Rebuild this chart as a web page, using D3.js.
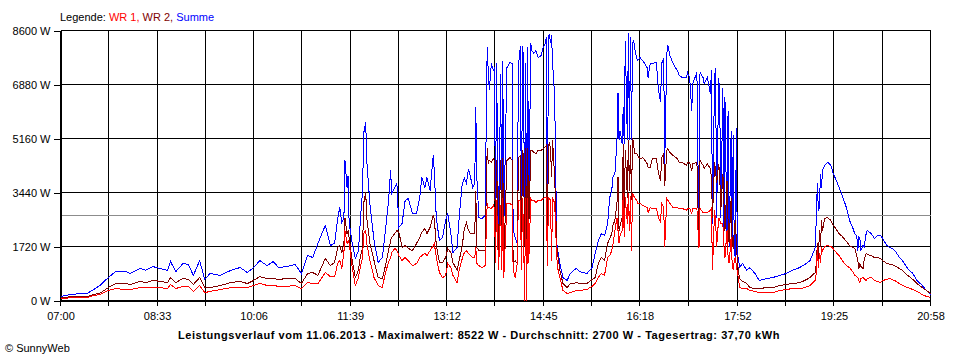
<!DOCTYPE html>
<html><head><meta charset="utf-8">
<script src="https://cdn.jsdelivr.net/npm/d3@7"></script>
<style>
body{margin:0;background:#fff;}
svg{display:block;font-family:"Liberation Sans",Arial,sans-serif;font-size:11px;}
</style></head><body>
<svg id="chart" width="960" height="360"></svg>
<script>
// minutes since 07:00
const minutes = [0,5,10,19,26,32,38,46,53,63,
67,77,82,89,96,103,106,111,118,123,
128,134,139,144,154,164,173,180,186,192,
199,205,210,218,226,232,238,243,248,255,
260,264,267,269,271,273,274,276,277,278,
281,284,287,289,291,292,294,295,298,302,
306,310,313,316,318,319,322,324,326,329,
332,335,339,343,346,348,351,353,356,359,
360,362,365,368,371,373,376,378,382,384,
387,389,391,393,395,397,399,400,401,403,
406,409,411,412,413,415,417,418,419,420,
422,424,425,426,427,430,433,435,436,438,
440,441,443,444,445,446,447,448,449,450,
451,453,454,456,458,460,463,465,467,468,
469,470,471,472,473,474,476,478,479,481,
484,488,491,494,497,500,507,512,515,518,
521,524,527,529,531,532,534,536,537,538,
539,541,542,543,544,546,547,548,549,550,
551,552,553,555,556,558,561,565,566,568,
570,574,576,578,579,581,582,584,585,587,
590,594,596,599,603,604,606,608,609,613,
615,616,619,620,623,626,627,628,630,631,
632,634,635,636,638,639,640,642,643,644,
646,647,648,649,650,651,652,653,654,657,
661,664,669,673,680,686,693,699,705,712,
717,722,724,727,728,729,730,731,732,733,
734,736,738,739,742,744,748,750,753,757,
760,763,765,767,768,769,770,771,773,774,
776,777,781,784,787,790,792,796,799,801,
805,808,811,816,821,825,830,834,838];

const summe = [130,160,190,220,230,350,480,730,920,920,
860,1020,960,1080,1020,960,1240,920,1180,1150,
800,1270,670,860,800,960,1050,890,1050,1270,
1110,1240,1050,1080,1150,860,1430,1370,1820,2390,
1750,1820,2610,2960,2480,2640,4460,3600,3980,2480,
1820,1340,1590,2640,3500,5320,5670,4460,3090,1910,
1210,1370,2230,3190,4140,3410,3600,3730,2330,2450,
3190,3250,2770,2770,3280,3920,3600,3920,3500,4620,
4140,2610,1910,2010,2550,2770,2130,1530,1690,2640,
3730,3890,3730,4200,3920,3600,3730,6150,3920,2640,
2610,2710,8060,7330,6690,7550,7330,7390,2640,7550,
2010,7230,2010,7640,2330,7420,7580,7550,2230,2010,
1820,7420,8120,2230,8120,7740,1910,7550,1820,8060,
2640,8190,7960,7870,7960,7740,7800,8060,8190,8380,
2230,8380,8500,8190,8440,7550,6470,1820,1590,1180,
730,640,860,960,1020,920,860,1050,1500,1910,
2130,2070,2450,3280,3500,3920,4040,5100,6620,5100,
5410,5000,6150,5000,8280,5100,8520,5100,8380,5100,
8190,8280,8060,7710,7640,7740,7640,7420,7100,7550,
7550,7580,6690,6310,7550,7710,4360,7870,8120,7800,
7550,7330,7170,7100,7100,7260,7100,6050,6910,7260,
1750,7260,7100,6910,7100,6590,7330,2450,7100,7420,
2640,7100,6470,2640,6780,2230,6470,1820,6050,1690,
5410,2010,5260,1590,1370,5510,1270,1370,1050,1180,
960,1050,860,640,700,730,800,860,960,1050,
1150,1270,1430,1690,2640,3730,2870,2960,4040,3600,
4140,4300,4360,4400,4300,4080,3760,3600,3340,2960,
2550,2330,2130,2070,1590,2010,1970,1590,1750,1690,
2130,2230,2130,1970,2070,2070,1970,1750,1690,1660,
1530,1370,1270,1020,860,640,480,320,190];

const wr2 = [100,100,130,130,130,190,230,410,540,540,
510,610,570,640,610,570,730,570,700,670,
510,730,410,410,480,570,610,540,640,760,
700,700,670,700,700,540,860,890,800,1340,
1110,1210,1690,1750,1530,1820,2640,2130,2230,2010,
1270,730,960,1430,1690,3090,3440,2640,1820,1270,
730,700,1110,1590,1910,2010,2130,2230,2170,1690,
1750,1660,1590,1820,2010,2170,2290,2130,2330,2710,
2610,1750,1210,1210,1370,1660,1530,1210,960,1270,
1750,2290,2480,2230,2130,2130,2130,3500,1690,1590,
1590,1590,4870,4360,4460,4400,4520,4460,2010,4460,
1590,4460,1370,4550,1180,4460,4550,4460,1180,1270,
1180,4550,4620,1590,4780,4620,1750,4870,1820,4870,
2230,4780,4780,4710,4680,4780,4780,4840,4900,4940,
1910,4940,5000,4840,3920,5100,3920,1750,1430,960,
540,410,540,540,570,540,540,670,730,1180,
1370,1270,1820,1970,2130,2390,2550,3090,3920,2230,
2390,2640,5000,2450,4780,3280,5100,3500,4940,3190,
5190,5000,4680,4680,4620,4520,4550,4360,4240,4240,
4520,4520,4040,3820,4550,4680,3660,4780,4840,4710,
4620,4520,4400,4400,4300,4400,4400,4140,4360,4400,
1690,4460,4300,4200,4360,4200,3920,2640,4400,4140,
3730,4360,3980,2870,4040,3190,2230,3820,2550,1820,
3280,1750,1690,2230,2550,1910,1180,960,700,610,
540,410,380,380,410,410,480,510,540,570,
640,730,800,890,1180,1820,1270,2230,1690,2550,
2230,2610,2640,2640,2550,2420,2230,2130,2040,1880,
1750,1690,1660,1430,1270,1020,1180,1080,1020,1270,
1500,1470,1430,1370,1370,1340,1270,1180,1150,1150,
1080,1020,960,800,670,540,410,320,220];

const wr1 = [60,60,100,100,100,160,190,320,380,350,
350,410,410,410,410,380,510,380,450,450,
290,480,250,290,350,410,410,410,480,540,
480,480,450,450,480,380,570,540,540,890,
760,760,1180,1270,1020,1530,2230,1820,1910,1820,
1050,480,730,1110,1370,2130,2230,1820,1270,730,
480,410,890,1210,1370,1530,1660,1590,1430,1270,
1370,1270,1110,1180,1370,1430,1500,1430,1590,1750,
1820,1370,890,730,800,1180,1050,800,570,960,
1340,1530,1590,1500,1430,1370,1370,1690,1180,1110,
1050,1110,3090,2960,2960,2930,3030,2960,1180,3190,
960,3030,960,3280,730,3090,3090,3030,960,730,
1180,3190,3190,960,3280,2230,0,3280,0,3250,
1180,3250,3190,3190,3120,3190,3190,3250,3280,3280,
1110,3280,3250,3190,1270,3280,3090,1370,1020,730,
320,220,250,290,320,320,350,450,540,730,
860,800,1370,1430,1590,1750,2230,2640,2230,1820,
2070,2230,3410,2010,3280,2450,3410,2230,3340,1590,
3410,3340,3280,3190,3090,3090,3030,2960,2800,2960,
2930,2930,2640,2480,3090,2960,1690,3250,3190,3090,
2960,2960,2930,2930,2870,2930,2930,2770,2930,2930,
1660,2930,2800,2800,2800,2870,2960,960,2870,2550,
1690,2640,2550,2450,2450,1750,1370,2230,1430,1180,
2010,1110,960,1270,1370,1110,890,730,410,380,
380,320,290,250,250,250,320,350,380,380,
410,480,540,640,860,1690,1050,1500,1180,1690,
1590,1720,1750,1750,1720,1660,1500,1430,1270,1110,
1050,920,800,760,730,640,570,700,730,700,
640,700,730,640,610,570,640,670,700,670,
610,540,480,410,350,290,190,130,100];

const yTicks = [0,1720,3440,5160,6880,8600];
const xTickLabels = ["07:00","08:33","10:06","11:39","13:12","14:45","16:18","17:52","19:25","20:58"];
const averageW = 2700;
const seriesNames = ["WR 1","WR 2","Summe"];
const seriesColors = ["#ff0000","#800000","#0000ff"];
const footerText = "Leistungsverlauf vom 11.06.2013 - Maximalwert: 8522 W - Durchschnitt: 2700 W - Tagesertrag: 37,70 kWh";
const copyrightText = "\u00A9 SunnyWeb";

const svg = d3.select("#chart");
const toMin = s => { const [h,m] = s.split(":").map(Number); return (h-7)*60 + m; };
const labelMins = xTickLabels.map(toMin);
const gridMins = [];
labelMins.forEach((m,i) => { gridMins.push(m); if (i < labelMins.length-1) gridMins.push((m + labelMins[i+1])/2); });

const x = d3.scaleLinear().domain([0, labelMins[labelMins.length-1]]).range([60, 930]);
const y = d3.scaleLinear().domain([0, 8600]).range([300, 30]);
const px = v => Math.round(v) + 0.5;

// grid
const grid = svg.append("g").attr("shape-rendering","crispEdges");
grid.selectAll("line.h").data(yTicks).join("line")
  .attr("x1", px(x(0))).attr("x2", px(x(labelMins[labelMins.length-1])))
  .attr("y1", d => px(y(d))).attr("y2", d => px(y(d)))
  .attr("stroke","#000");
grid.selectAll("line.v").data(gridMins).join("line")
  .attr("x1", d => px(x(d))).attr("x2", d => px(x(d)))
  .attr("y1", px(y(8600))).attr("y2", px(y(0)))
  .attr("stroke","#000");

// average line
svg.append("line").attr("shape-rendering","crispEdges")
  .attr("x1", px(x(0))).attr("x2", px(x(labelMins[labelMins.length-1])))
  .attr("y1", px(y(averageW))).attr("y2", px(y(averageW)))
  .attr("stroke","#8c8c8c");

// axes
const yAxis = d3.axisLeft(y).tickValues(yTicks).tickSize(7).tickSizeOuter(0).tickPadding(3).tickFormat(d => d + " W");
const gy = svg.append("g").attr("transform", `translate(${px(x(0))},0.5)`).call(yAxis);
const xAxis = d3.axisBottom(x).tickValues(gridMins).tickSize(5).tickSizeOuter(0).tickPadding(7)
  .tickFormat(d => { const i = labelMins.indexOf(d); return i >= 0 ? xTickLabels[i] : ""; });
const gx = svg.append("g").attr("transform", `translate(0.5,${px(y(0))})`).call(xAxis);
[gy, gx].forEach(g => {
  g.attr("shape-rendering","crispEdges");
  g.selectAll("line,path").attr("stroke","#000");
  g.selectAll("text").attr("fill","#000").style("font-family",'"Liberation Sans",Arial,sans-serif').style("font-size","11px");
});
gx.selectAll(".tick line").attr("transform","translate(-0.5,0)");

// series
const series = [wr1, wr2, summe];
const line = d3.line().x((d,i) => x(minutes[i]) + 0.5).y(d => y(d) + 0.5);
[2,1,0].forEach(k => {
  svg.append("path").datum(series[k])
    .attr("d", line).attr("fill","none")
    .attr("stroke", seriesColors[k]).attr("stroke-width", 1)
    .attr("shape-rendering","crispEdges");
});

// legend
const leg = svg.append("text").attr("x", 60).attr("y", 21);
leg.append("tspan").attr("fill","#000").text("Legende: ");
seriesNames.forEach((n,i) => {
  leg.append("tspan").attr("fill", seriesColors[i]).text(n + (i < seriesNames.length-1 ? ", " : ""));
});

// footer
svg.append("text").attr("x", 479).attr("y", 339).attr("text-anchor","middle")
  .style("font-weight","bold").style("letter-spacing","0.55px").attr("fill","#000").text(footerText);
svg.append("text").attr("x", 5).attr("y", 352).attr("fill","#000").text(copyrightText);
</script>
</body></html>
